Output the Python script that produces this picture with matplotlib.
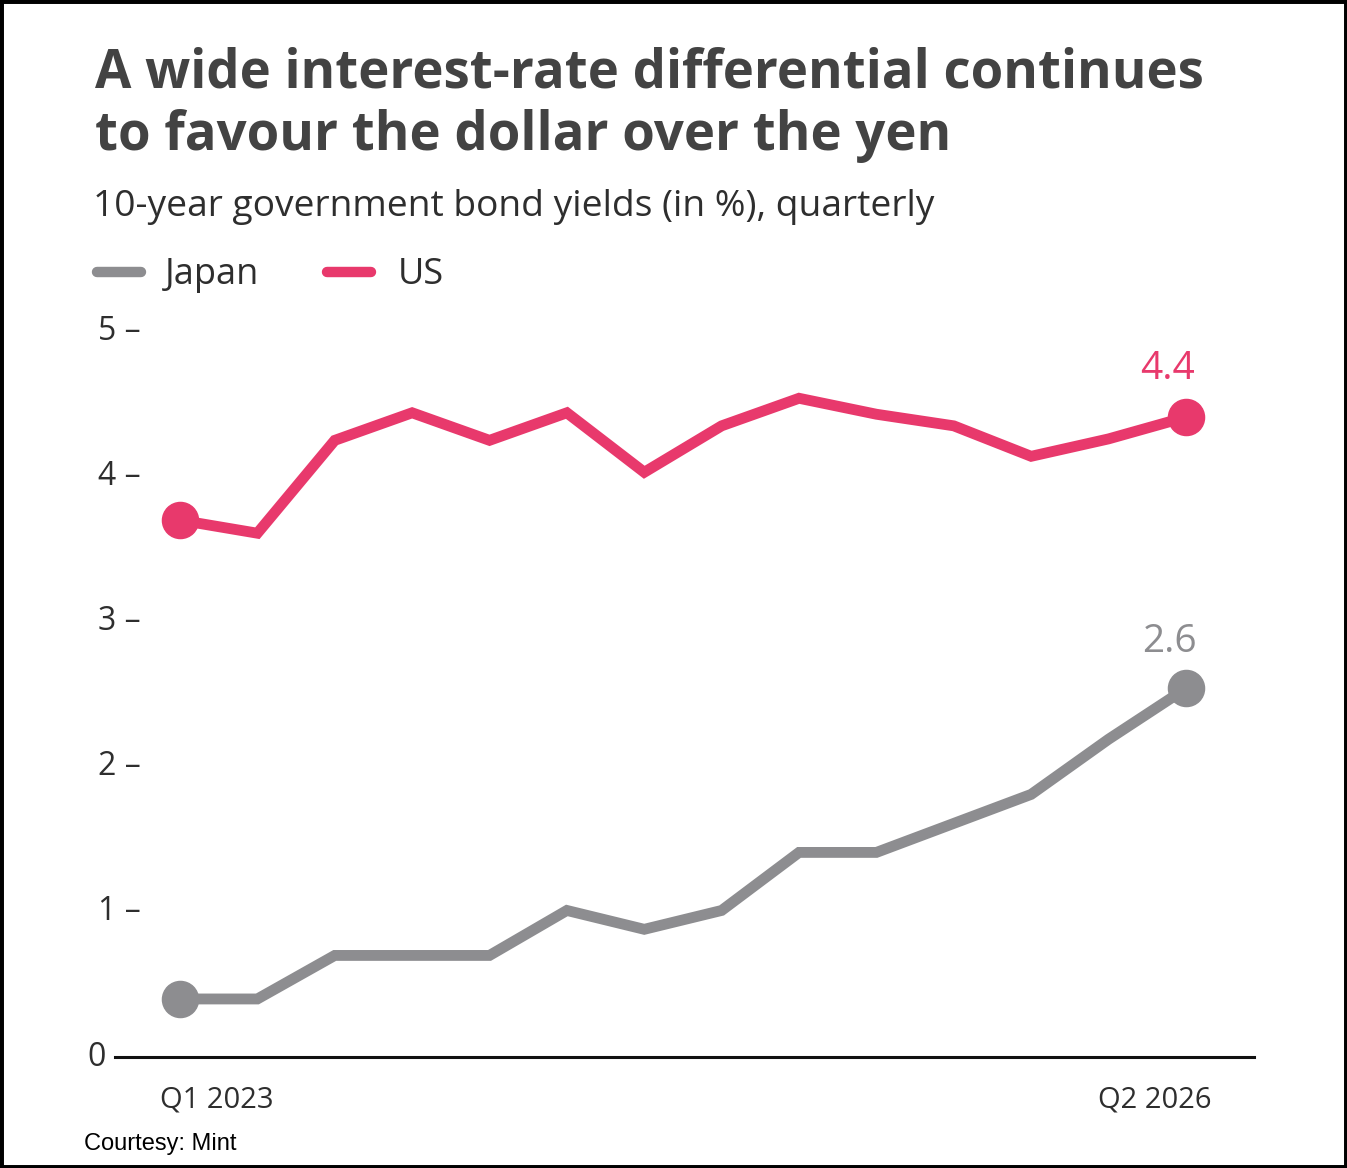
import matplotlib.pyplot as plt
from matplotlib.lines import Line2D
from matplotlib.patches import Rectangle

# data (Q1 2023 .. Q2 2026, quarterly)
quarters = ['Q1 2023', 'Q2 2023', 'Q3 2023', 'Q4 2023', 'Q1 2024', 'Q2 2024', 'Q3 2024',
            'Q4 2024', 'Q1 2025', 'Q2 2025', 'Q3 2025', 'Q4 2025', 'Q1 2026', 'Q2 2026']
us = [3.70, 3.61, 4.25, 4.44, 4.25, 4.44, 4.03, 4.35, 4.54, 4.43, 4.35, 4.14, 4.26, 4.41]
japan = [0.40, 0.40, 0.70, 0.70, 0.70, 1.01, 0.88, 1.01, 1.41, 1.41, 1.61, 1.81, 2.19, 2.54]
yticks = [0, 1, 2, 3, 4, 5]

PINK = '#e8396c'
GREY = '#8d8d90'
TITLE = '#434343'
TXT = '#2e2e2e'

W, H = 1347, 1168
fig = plt.figure(figsize=(W / 100, H / 100), dpi=100)
fig.patch.set_facecolor('white')

ax = fig.add_axes([115 / W, 1 - 1057 / H, (1254 - 115) / W, (1057 - 288) / H])
x = list(range(len(quarters)))

ax.plot(x, japan, color=GREY, lw=7.8, solid_joinstyle='miter', solid_capstyle='butt', zorder=3)
ax.plot(x, us, color=PINK, lw=7.8, solid_joinstyle='miter', solid_capstyle='butt', zorder=3)
for s, c in [(japan, GREY), (us, PINK)]:
    ax.plot([x[0], x[-1]], [s[0], s[-1]], 'o', color=c, ms=26, zorder=4)

ax.set_xlim(-0.84, 13.88)
ax.set_ylim(0, 5.3)
for sp in ['top', 'right', 'left']:
    ax.spines[sp].set_visible(False)
ax.spines['bottom'].set_linewidth(2.2)
ax.spines['bottom'].set_color('#111111')
ax.set_xticks([])
ax.set_yticks([])

# y labels with the dash after the number
ytr = ax.get_yaxis_transform()
for v in yticks:
    if v == 0:
        ax.annotate('0', xy=(0, v), xycoords=ytr, xytext=(-9, 0), textcoords='offset pixels',
                    ha='right', va='center', fontsize=23, color=TXT, family='Open Sans')
    else:
        ax.annotate(f'{v} –', xy=(0, v), xycoords=ytr, xytext=(26, 0), textcoords='offset pixels',
                    ha='right', va='center', fontsize=23, color=TXT, family='Open Sans')

# x end labels
xtr = ax.get_xaxis_transform()
ax.annotate(quarters[0], xy=(x[0], 0), xycoords=xtr, xytext=(-20, -28), textcoords='offset pixels',
            ha='left', va='top', fontsize=21, color=TXT, family='Open Sans')
ax.annotate(quarters[-1], xy=(x[-1], 0), xycoords=xtr, xytext=(26, -28), textcoords='offset pixels',
            ha='right', va='top', fontsize=21, color=TXT, family='Open Sans')

# end value labels
ax.annotate(f'{us[-1]:.1f}', xy=(x[-1], us[-1]), xytext=(-18, 38), textcoords='offset pixels',
            ha='center', va='baseline', fontsize=28, color=PINK, family='Open Sans')
ax.annotate('2.6', xy=(x[-1], japan[-1]), xytext=(-16, 36), textcoords='offset pixels',
            ha='center', va='baseline', fontsize=28, color=GREY, family='Open Sans')

# titles
fig.text(95 / W, 1 - 88 / H, 'A wide interest-rate differential continues', fontsize=38,
         fontweight='bold', color=TITLE, family='Open Sans', va='baseline', ha='left')
fig.text(95 / W, 1 - 150 / H, 'to favour the dollar over the yen', fontsize=38,
         fontweight='bold', color=TITLE, family='Open Sans', va='baseline', ha='left')
fig.text(93 / W, 1 - 216 / H, '10-year government bond yields (in %), quarterly', fontsize=26.7,
         color=TXT, family='Open Sans', va='baseline', ha='left')

# legend
for x0, x1, c, lab, tx in [(97, 141, GREY, 'Japan', 165), (327, 371, PINK, 'US', 398)]:
    fig.add_artist(Line2D([x0 / W, x1 / W], [1 - 272 / H] * 2, color=c, lw=7.5,
                          solid_capstyle='round', transform=fig.transFigure))
    fig.text(tx / W, 1 - 284 / H, lab, fontsize=26, color=TXT, family='Open Sans',
             va='baseline', ha='left')

fig.text(84 / W, 1 - 1150 / H, 'Courtesy: Mint', fontsize=17, color='black',
         family='Liberation Sans', va='baseline', ha='left')

fig.add_artist(Rectangle((0, 0), 1, 1, transform=fig.transFigure, fill=False,
                         edgecolor='black', lw=5))

fig.savefig('out.png', dpi=100)
